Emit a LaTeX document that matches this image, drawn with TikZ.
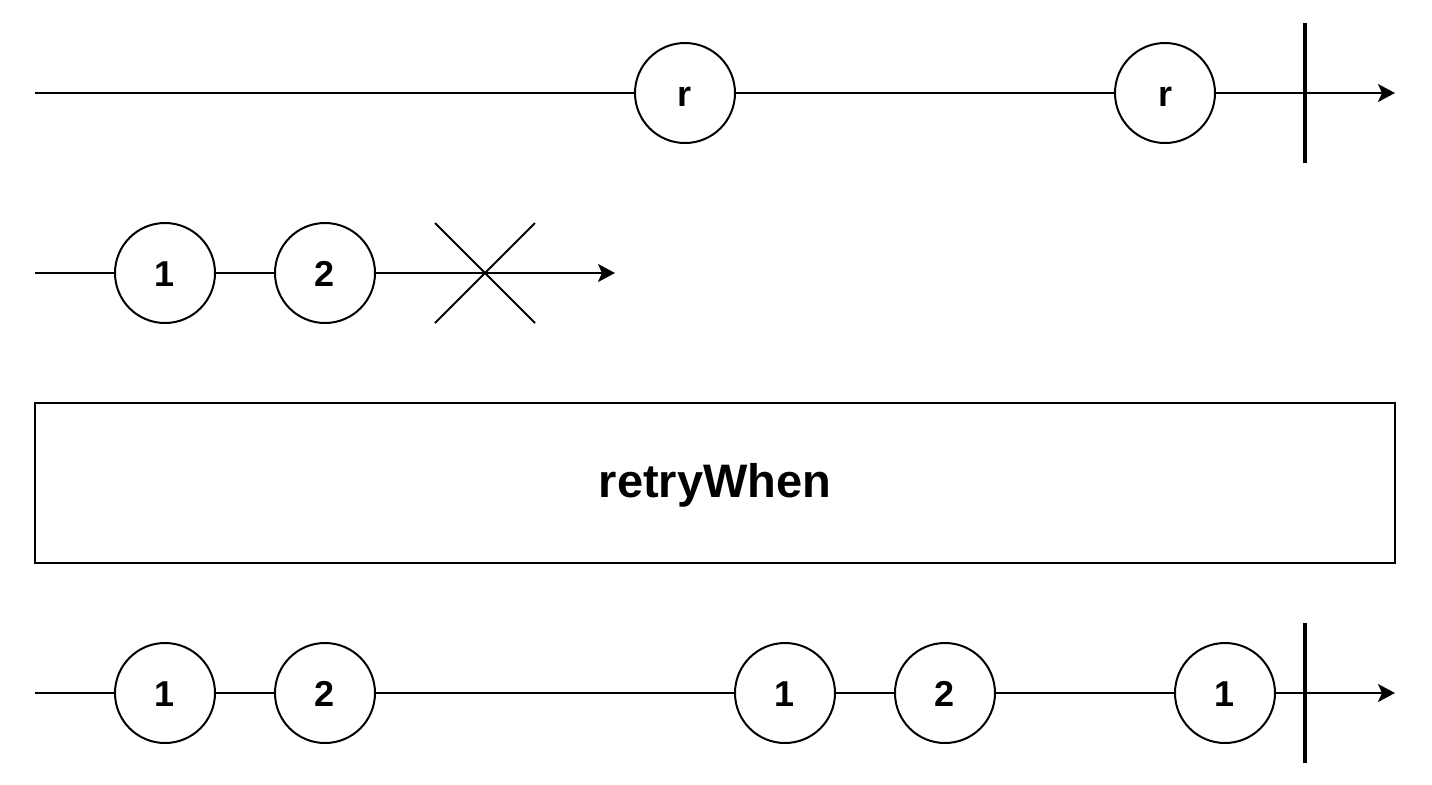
\documentclass[tikz,border=0pt]{standalone}
\usepackage{fontspec}
\setmainfont{Liberation Sans}
\usetikzlibrary{arrows.meta}

\begin{document}
\begin{tikzpicture}[x=0.5pt, y=-0.5pt, line width=1pt,
    marble/.style={circle, draw, fill=white, minimum size=50pt, inner sep=0pt,
                   text height=13pt, text depth=0pt,
                   font=\fontsize{18}{20}\selectfont\bfseries},
    timeline/.style={-{Stealth[length=8.5pt, width=9pt, inset=2pt]}},
    endbar/.style={line width=2pt}]
    \useasboundingbox (0, 0) rectangle (1432, 784);

    % Notifier row
    \coordinate (n0) at (35, 93);
    \coordinate (nend) at (1395, 93);
    \node[marble] (nr1) at (685, 93) {r};
    \node[marble] (nr2) at (1165, 93) {r};
    \coordinate (nbar1) at (1305, 23);
    \coordinate (nbar2) at (1305, 163);
    \draw (n0) -- (nr1);
    \draw (nr1) -- (nr2);
    \draw[timeline] (nr2) -- (nend);
    \draw[endbar] (nbar1) -- (nbar2);

    % Source row, ends with an error
    \coordinate (s0) at (35, 273);
    \coordinate (send) at (615, 273);
    \node[marble] (s1) at (165, 273) {1};
    \node[marble] (s2) at (325, 273) {2};
    \coordinate (x1) at (435, 223);
    \coordinate (x2) at (535, 323);
    \coordinate (x3) at (435, 323);
    \coordinate (x4) at (535, 223);
    \draw (s0) -- (s1);
    \draw (s1) -- (s2);
    \draw[timeline] (s2) -- (send);
    \draw (x1) -- (x2);
    \draw (x3) -- (x4);

    % Operator box
    \node[draw, minimum width=680pt, minimum height=80pt, inner sep=0pt,
          text height=14pt, text depth=0pt,
          font=\fontsize{23.5}{26}\selectfont\bfseries] (op) at (715, 483) {retryWhen};

    % Result row
    \coordinate (o0) at (35, 693);
    \coordinate (oend) at (1395, 693);
    \node[marble] (o1) at (165, 693) {1};
    \node[marble] (o2) at (325, 693) {2};
    \node[marble] (o3) at (785, 693) {1};
    \node[marble] (o4) at (945, 693) {2};
    \node[marble] (o5) at (1225, 693) {1};
    \coordinate (obar1) at (1305, 623);
    \coordinate (obar2) at (1305, 763);
    \draw (o0) -- (o1);
    \draw (o1) -- (o2);
    \draw (o2) -- (o3);
    \draw (o3) -- (o4);
    \draw (o4) -- (o5);
    \draw[timeline] (o5) -- (oend);
    \draw[endbar] (obar1) -- (obar2);
\end{tikzpicture}
\end{document}
